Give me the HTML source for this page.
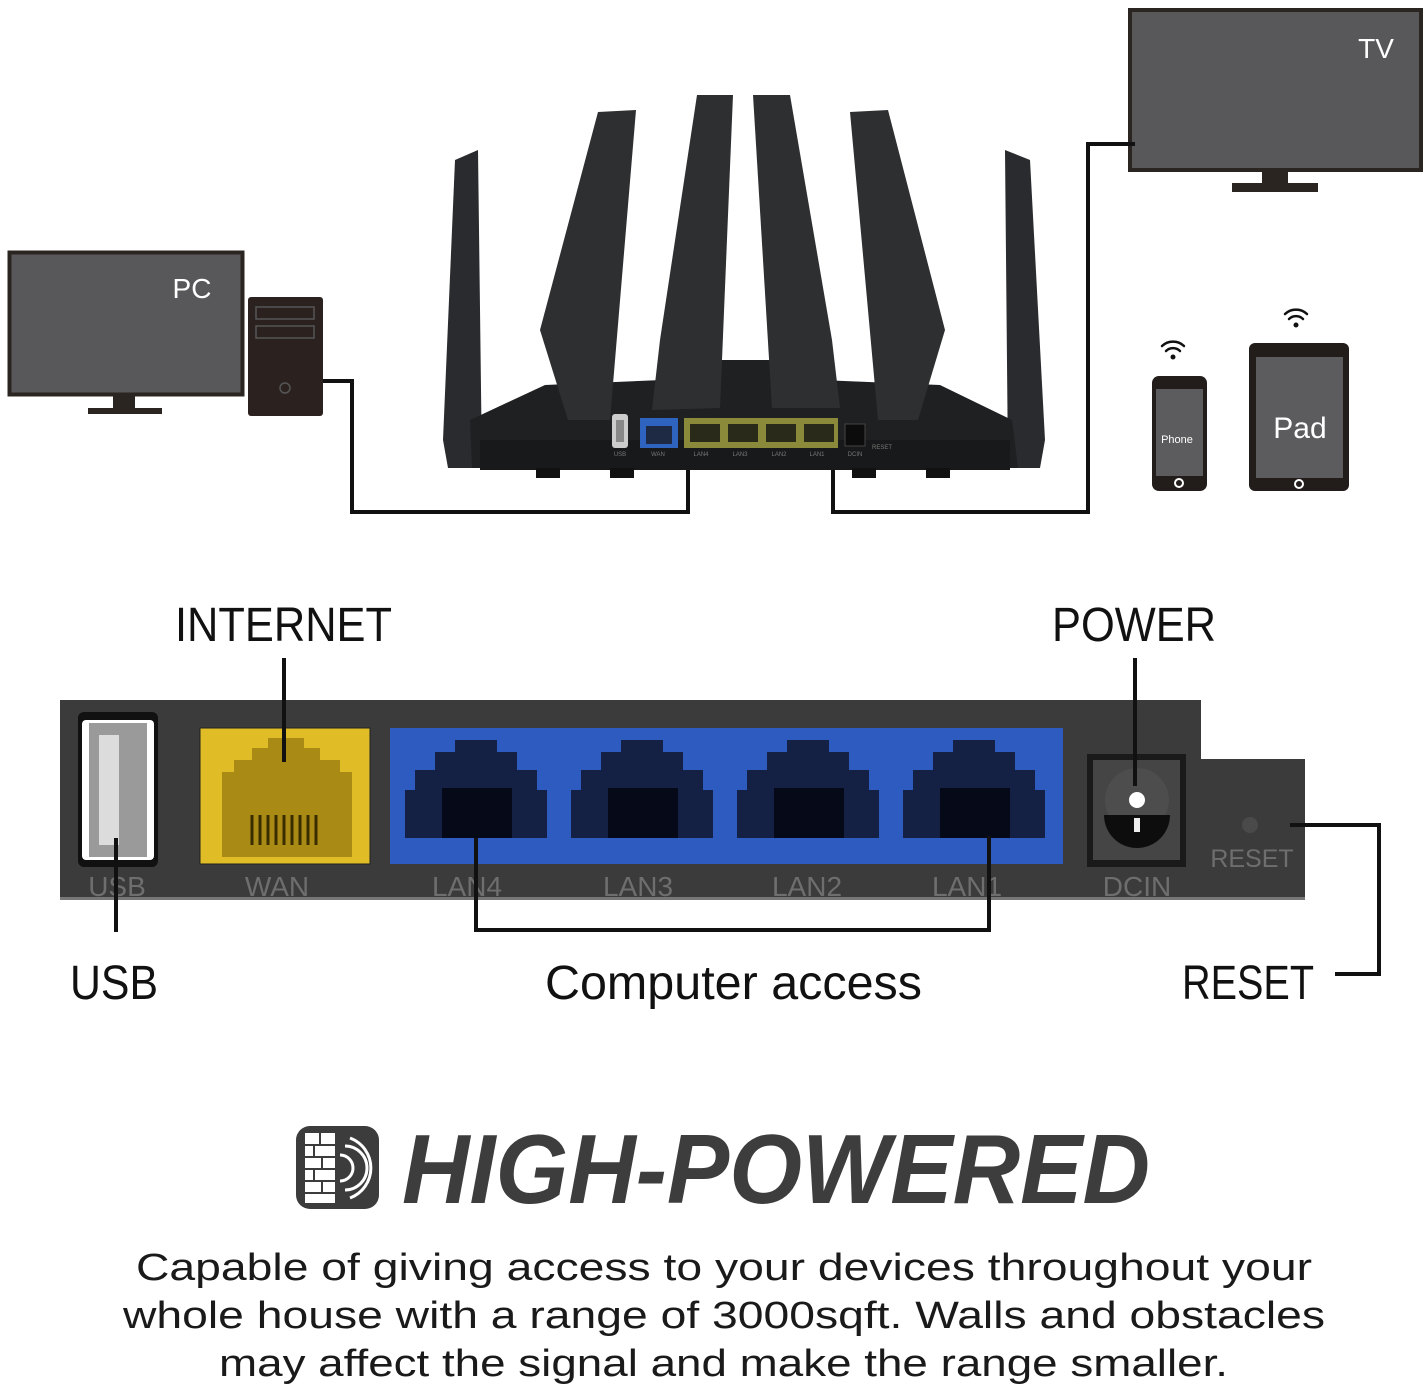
<!DOCTYPE html>
<html><head><meta charset="utf-8"><style>
html,body{margin:0;padding:0;background:#fff}
svg{display:block}
text{font-family:"Liberation Sans",sans-serif}
</style></head><body>
<svg width="1428" height="1388" viewBox="0 0 1428 1388" xmlns="http://www.w3.org/2000/svg">
<rect width="1428" height="1388" fill="#fff"/>
<!-- PC -->
<rect x="9.5" y="252.5" width="233" height="142" fill="#58585a" stroke="#2b2522" stroke-width="4"/>
<rect x="113" y="395" width="22" height="13" fill="#2b2522"/>
<rect x="88" y="408" width="74" height="6" fill="#2b2522"/>
<text x="192" y="298" fill="#fff" font-size="28" text-anchor="middle">PC</text>
<rect x="248" y="297" width="75" height="119" rx="3" fill="#2b2220"/>
<rect x="256" y="307" width="58" height="12" fill="none" stroke="#555" stroke-width="1.5"/>
<rect x="256" y="326" width="58" height="12" fill="none" stroke="#555" stroke-width="1.5"/>
<circle cx="285" cy="388" r="5" fill="none" stroke="#555" stroke-width="1.5"/>
<!-- TV -->
<rect x="1130" y="10" width="291" height="160" fill="#58585a" stroke="#2b2522" stroke-width="4"/>
<rect x="1262" y="171" width="26" height="12" fill="#2b2522"/>
<rect x="1232" y="183" width="86" height="9" fill="#2b2522"/>
<text x="1376" y="58" fill="#fff" font-size="28" text-anchor="middle">TV</text>
<!-- cables -->
<polyline points="323,381 352,381 352,512 688,512 688,470" fill="none" stroke="#111" stroke-width="4"/>
<polyline points="833,470 833,512 1088,512 1088,144 1135,144" fill="none" stroke="#111" stroke-width="4"/>
<!-- Router -->
<polygon points="455,160 478,150 482,468 448,468 443,440" fill="#2a2b2e"/>
<polygon points="1005,150 1030,160 1045,440 1040,468 1008,468" fill="#2a2b2e"/>
<polygon points="470,420 545,385 710,378 712,360 770,360 772,378 940,385 1012,420 1018,468 472,468" fill="#1f2022"/>
<rect x="480" y="440" width="530" height="30" fill="#18191a"/>
<rect x="536" y="468" width="24" height="10" fill="#111"/><rect x="610" y="468" width="24" height="10" fill="#111"/>
<rect x="852" y="468" width="24" height="10" fill="#111"/><rect x="926" y="468" width="24" height="10" fill="#111"/>
<polygon points="598,112 636,110 610,420 568,420 540,330" fill="#2e2f31"/>
<polygon points="697,95 733,95 720,408 652,410 660,340" fill="#2e2f31"/>
<polygon points="753,95 790,95 832,340 840,408 772,408" fill="#2e2f31"/>
<polygon points="850,112 888,110 945,330 918,420 878,420" fill="#2e2f31"/>
<rect x="612" y="414" width="16" height="34" rx="3" fill="#ccc"/><rect x="616" y="420" width="8" height="22" fill="#888"/>
<rect x="640" y="418" width="38" height="30" fill="#2f63c0"/><rect x="646" y="426" width="26" height="18" fill="#1e2a44"/>
<rect x="684" y="418" width="154" height="30" fill="#8a8a3a"/>
<rect x="690" y="424" width="30" height="18" fill="#2a2a1a"/><rect x="728" y="424" width="30" height="18" fill="#2a2a1a"/>
<rect x="766" y="424" width="30" height="18" fill="#2a2a1a"/><rect x="804" y="424" width="30" height="18" fill="#2a2a1a"/>
<rect x="845" y="424" width="20" height="22" fill="#0c0c0c" stroke="#444"/>
<g fill="#777" font-size="6" text-anchor="middle"><text x="620" y="456">USB</text><text x="658" y="456">WAN</text><text x="701" y="456">LAN4</text><text x="740" y="456">LAN3</text><text x="779" y="456">LAN2</text><text x="817" y="456">LAN1</text><text x="855" y="456">DCIN</text><text x="882" y="449">RESET</text></g>
<!-- Phone -->
<rect x="1152" y="376" width="55" height="115" rx="7" fill="#221c1a"/>
<rect x="1156" y="389" width="47" height="87" fill="#5c5c5e"/>
<circle cx="1179" cy="483" r="4" fill="none" stroke="#fff" stroke-width="2"/>
<text x="1177" y="443" fill="#fff" font-size="11" text-anchor="middle">Phone</text>
<!-- Pad -->
<rect x="1249" y="343" width="100" height="148" rx="6" fill="#221c1a"/>
<rect x="1256" y="357" width="87" height="121" fill="#5c5c5e"/>
<circle cx="1299" cy="484" r="4" fill="none" stroke="#fff" stroke-width="2"/>
<text x="1300" y="438" fill="#fff" font-size="30" text-anchor="middle">Pad</text>
<!-- wifi -->
<g fill="none" stroke="#111" stroke-width="2.5" stroke-linecap="round">
<path d="M1162,346 a16,16 0 0 1 22,0"/><path d="M1166,351 a10,10 0 0 1 14,0"/>
<path d="M1285,314 a16,16 0 0 1 22,0"/><path d="M1289,319 a10,10 0 0 1 14,0"/></g>
<circle cx="1173" cy="357" r="2.5" fill="#111"/><circle cx="1296" cy="325" r="2.5" fill="#111"/>

<!-- Bottom panel -->
<rect x="60" y="700" width="1141" height="200" fill="#3b3b3c"/>
<rect x="1200" y="759" width="105" height="141" fill="#3b3b3c"/>
<rect x="60" y="897" width="1245" height="3" fill="#777"/>
<rect x="78" y="712" width="80" height="155" rx="6" fill="#111"/>
<rect x="82" y="720" width="72" height="140" rx="4" fill="#fff"/>
<rect x="89" y="723" width="58" height="134" fill="#9a9a9a"/>
<rect x="99" y="735" width="20" height="110" fill="#dcdcdc"/>
<rect x="200" y="728" width="170" height="136" fill="#e0bd26" stroke="#222" stroke-width="1"/>
<polygon points="222,772 222,857 352,857 352,772 340,772 340,760 320,760 320,748 304,748 304,738 268,738 268,748 252,748 252,760 234,760 234,772" fill="#a88a14"/>
<g stroke="#3a2e00" stroke-width="3">
<line x1="252" y1="815" x2="252" y2="845"/><line x1="260" y1="815" x2="260" y2="845"/><line x1="268" y1="815" x2="268" y2="845"/><line x1="276" y1="815" x2="276" y2="845"/><line x1="284" y1="815" x2="284" y2="845"/><line x1="292" y1="815" x2="292" y2="845"/><line x1="300" y1="815" x2="300" y2="845"/><line x1="308" y1="815" x2="308" y2="845"/><line x1="316" y1="815" x2="316" y2="845"/></g>
<rect x="390" y="728" width="673" height="136" fill="#2e5bbf"/>
<g fill="#142044">
<polygon points="405,790 405,838 547,838 547,790 537,790 537,770 517,770 517,752 497,752 497,740 455,740 455,752 435,752 435,770 415,770 415,790"/>
<polygon points="571,790 571,838 713,838 713,790 703,790 703,770 683,770 683,752 663,752 663,740 621,740 621,752 601,752 601,770 581,770 581,790"/>
<polygon points="737,790 737,838 879,838 879,790 869,790 869,770 849,770 849,752 829,752 829,740 787,740 787,752 767,752 767,770 747,770 747,790"/>
<polygon points="903,790 903,838 1045,838 1045,790 1035,790 1035,770 1015,770 1015,752 995,752 995,740 953,740 953,752 933,752 933,770 913,770 913,790"/>
</g>
<g fill="#060a18">
<rect x="442" y="788" width="70" height="50"/><rect x="608" y="788" width="70" height="50"/><rect x="774" y="788" width="70" height="50"/><rect x="940" y="788" width="70" height="50"/></g>
<rect x="1087" y="754" width="99" height="113" fill="#1a1a1a"/>
<rect x="1093" y="760" width="87" height="100" fill="#454545"/>
<circle cx="1137" cy="800" r="32" fill="#4d4d4d"/>
<path d="M1104,815 a32,32 0 0 0 66,0 z" fill="#0d0d0d"/>
<circle cx="1137" cy="800" r="8" fill="#fff"/>
<rect x="1134" y="818" width="6" height="14" fill="#eee"/>
<circle cx="1250" cy="825" r="8" fill="#4a4a4a"/>
<g fill="#6e6e6e" font-size="28" text-anchor="middle">
<text x="117" y="896">USB</text><text x="277" y="896">WAN</text><text x="467" y="896">LAN4</text><text x="638" y="896">LAN3</text><text x="807" y="896">LAN2</text><text x="967" y="896">LAN1</text><text x="1137" y="896">DCIN</text>
<text x="1252" y="867" font-size="25">RESET</text></g>
<!-- callout lines -->
<g fill="none" stroke="#111" stroke-width="4">
<line x1="284" y1="658" x2="284" y2="762"/>
<line x1="1135" y1="658" x2="1135" y2="786"/>
<line x1="116" y1="838" x2="116" y2="932"/>
<polyline points="476,838 476,930 989,930 989,836"/>
<polyline points="1290,825 1379,825 1379,974 1335,974"/>
</g>
<g fill="#111" font-size="48">
<text x="175" y="641" textLength="217" lengthAdjust="spacingAndGlyphs">INTERNET</text>
<text x="1052" y="641" textLength="164" lengthAdjust="spacingAndGlyphs">POWER</text>
<text x="70" y="999" textLength="88" lengthAdjust="spacingAndGlyphs">USB</text>
<text x="545" y="999" textLength="377" lengthAdjust="spacingAndGlyphs">Computer access</text>
<text x="1182" y="999" textLength="132" lengthAdjust="spacingAndGlyphs">RESET</text>
</g>
<!-- HIGH-POWERED -->
<rect x="296" y="1126" width="83" height="83" rx="14" fill="#3c3c3c"/>
<rect x="305" y="1133" width="30" height="70" fill="#fff"/>
<g stroke="#3c3c3c" stroke-width="2">
<line x1="305" y1="1145" x2="335" y2="1145"/><line x1="305" y1="1157" x2="335" y2="1157"/><line x1="305" y1="1169" x2="335" y2="1169"/><line x1="305" y1="1181" x2="335" y2="1181"/><line x1="305" y1="1193" x2="335" y2="1193"/>
<line x1="320" y1="1133" x2="320" y2="1145"/><line x1="314" y1="1145" x2="314" y2="1157"/><line x1="322" y1="1157" x2="322" y2="1169"/><line x1="314" y1="1169" x2="314" y2="1181"/><line x1="322" y1="1181" x2="322" y2="1193"/></g>
<g fill="none" stroke="#fff" stroke-width="3">
<path d="M340,1155 a12,12 0 0 1 0,26"/><path d="M345,1146 a22,22 0 0 1 0,44"/><path d="M350,1138 a32,32 0 0 1 0,60"/></g>
<text x="402" y="1203" fill="#3d3d3d" font-size="98" font-weight="bold" font-style="italic" textLength="748" lengthAdjust="spacingAndGlyphs">HIGH-POWERED</text>
<!-- paragraph -->
<g fill="#1a1a1a" font-size="38">
<text x="136" y="1280" textLength="1176" lengthAdjust="spacingAndGlyphs">Capable of giving access to your devices throughout your</text>
<text x="123" y="1328" textLength="1202" lengthAdjust="spacingAndGlyphs">whole house with a range of 3000sqft. Walls and obstacles</text>
<text x="219" y="1376" textLength="1009" lengthAdjust="spacingAndGlyphs">may affect the signal and make the range smaller.</text>
</g>
</svg>
</body></html>
